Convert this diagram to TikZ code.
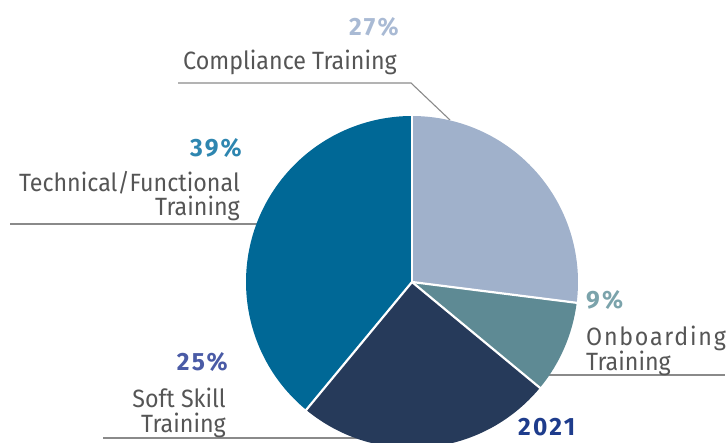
\documentclass[tikz,border=0pt]{standalone}
\usepackage{fontspec}
\setmainfont{Fira Sans}[FakeStretch=0.93]
\newfontfamily\spaced{Fira Sans}[FakeStretch=0.93,LetterSpace=7]
\newfontfamily\pctfont{Fira Sans}[FakeStretch=0.98,LetterSpace=9]
\definecolor{cComp}{HTML}{A0B1CB}
\definecolor{cOnb}{HTML}{5E8A94}
\definecolor{cSoft}{HTML}{263A5A}
\definecolor{cTech}{HTML}{006896}
\definecolor{tComp}{HTML}{A9BAD4}
\definecolor{tTech}{HTML}{2E86B0}
\definecolor{tOnb}{HTML}{7BA3AB}
\definecolor{tSoft}{HTML}{4A5BA6}
\definecolor{tYear}{HTML}{1E3C8C}
\definecolor{lab}{HTML}{555555}
\definecolor{leader}{HTML}{8A8A8A}
\begin{document}
\begin{tikzpicture}[x=1pt,y=1pt,
  pct/.style={font=\pctfont\fontsize{25}{25}\selectfont\bfseries, inner sep=0pt},
  lbl/.style={font=\fontsize{25}{25}\selectfont, text=lab, inner sep=0pt},
  lead/.style={draw=leader, line width=1.1pt},
  sep/.style={draw=white, line width=2.2pt}]
\useasboundingbox (0,0) rectangle (728,442);
\begin{scope}
\clip (0,0) rectangle (728,442);
\coordinate (c) at (412,160);
% leader lines under the pie
\coordinate (l1a) at (178,359);
\coordinate (l1b) at (411,359);
\coordinate (l1c) at (450,322);
\draw[lead] (l1a) -- (l1b) -- (l1c);
\coordinate (l2a) at (10,218);
\coordinate (l2b) at (270,218);
\draw[lead] (l2a) -- (l2b);
\coordinate (l3a) at (540,67);
\coordinate (l3b) at (725,67);
\draw[lead] (l3a) -- (l3b);
\coordinate (l4a) at (103,4);
\coordinate (l4b) at (370,4);
\draw[lead] (l4a) -- (l4b);
% slices
\fill[cComp] (c) -- ([shift={(c)}]90:166) arc[start angle=90,end angle=-7.2,radius=166] -- cycle;
\fill[cOnb] (c) -- ([shift={(c)}]-7.2:166) arc[start angle=-7.2,end angle=-39.6,radius=166] -- cycle;
\fill[cSoft] (c) -- ([shift={(c)}]-39.6:166) arc[start angle=-39.6,end angle=-129.6,radius=166] -- cycle;
\fill[cTech] (c) -- ([shift={(c)}]-129.6:166) arc[start angle=-129.6,end angle=-270,radius=166] -- cycle;
\foreach \a in {90,-7.2,-39.6,-129.6}
  \draw[sep] (c) -- ([shift={(c)}]\a:167);
\end{scope}
% labels
\node[pct, text=tComp, anchor=base east] (p1) at (399,406) {27\%};
\node[lbl, anchor=base east] (n1) at (397,372) {Compliance Training};
\node[pct, text=tTech, anchor=base east] (p2) at (242,285) {39\%};
\node[lbl, anchor=base east] (n2a) at (240,250) {Technical/Functional};
\node[lbl, anchor=base east] (n2b) at (240,226) {Training};
\node[pct, text=tOnb, anchor=base west] (p3) at (586,133) {9\%};
\node[lbl, anchor=base west] (n3a) at (586,97) {\spaced Onboarding};
\node[lbl, anchor=base west] (n3b) at (586,72) {Training};
\node[pct, text=tYear, anchor=base west] (yr) at (518,7) {2021};
\node[pct, text=tSoft, anchor=base east] (p4) at (228,72) {25\%};
\node[lbl, anchor=base east] (n4a) at (226,35) {Soft Skill};
\node[lbl, anchor=base east] (n4b) at (226,10) {Training};
\end{tikzpicture}
\end{document}
